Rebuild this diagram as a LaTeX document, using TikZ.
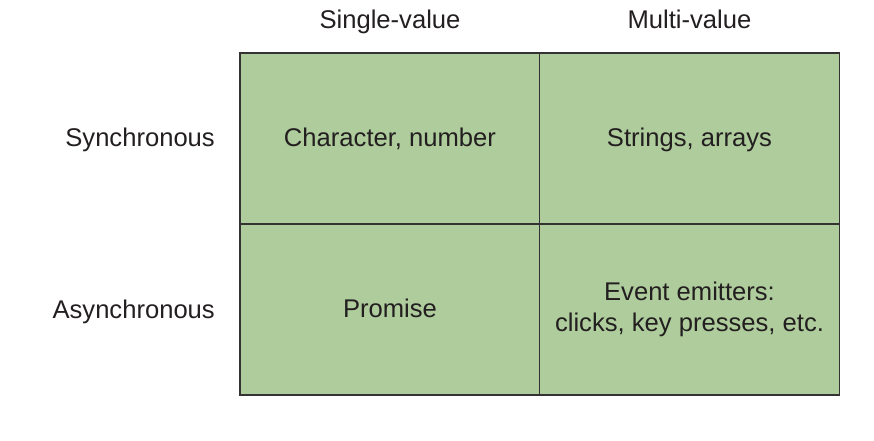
\documentclass[tikz,border=0pt]{standalone}
\usepackage{fontspec}
\setmainfont{Liberation Sans}
\definecolor{cellgreen}{HTML}{AECC9C}
\definecolor{txt}{HTML}{231F20}
\definecolor{edge}{HTML}{333333}
\begin{document}
\begin{tikzpicture}[x=1pt,y=-1pt,
  every node/.style={text=txt,font=\fontsize{25.6}{31.5}\selectfont},
  cell/.style={draw=edge,line width=1.8pt,fill=cellgreen,minimum width=300pt,minimum height=171pt,inner sep=0pt,align=center},
  onecell/.style={cell,text height=16.5pt,text depth=0pt},
  rowlab/.style={anchor=base east,inner sep=0pt},
  collab/.style={anchor=base,inner sep=0pt}]
\useasboundingbox (0,0) rectangle (874,440);
\node[onecell] (c11) at (390,138.5) {Character, number};
\node[onecell] (c12) at (689.5,138.5) {Strings, arrays};
\node[onecell] (c21) at (390,309.5) {Promise};
\node[cell] (c22) at (689.5,309.5) {Event emitters:\\clicks, key presses, etc.};
\node[collab] (h1) at (390,28.5) {Single-value};
\node[collab] (h2) at (689.5,28.5) {Multi-value};
\node[rowlab] (r1) at (215,146.5) {Synchronous};
\node[rowlab] (r2) at (215,318) {Asynchronous};
\end{tikzpicture}
\end{document}
